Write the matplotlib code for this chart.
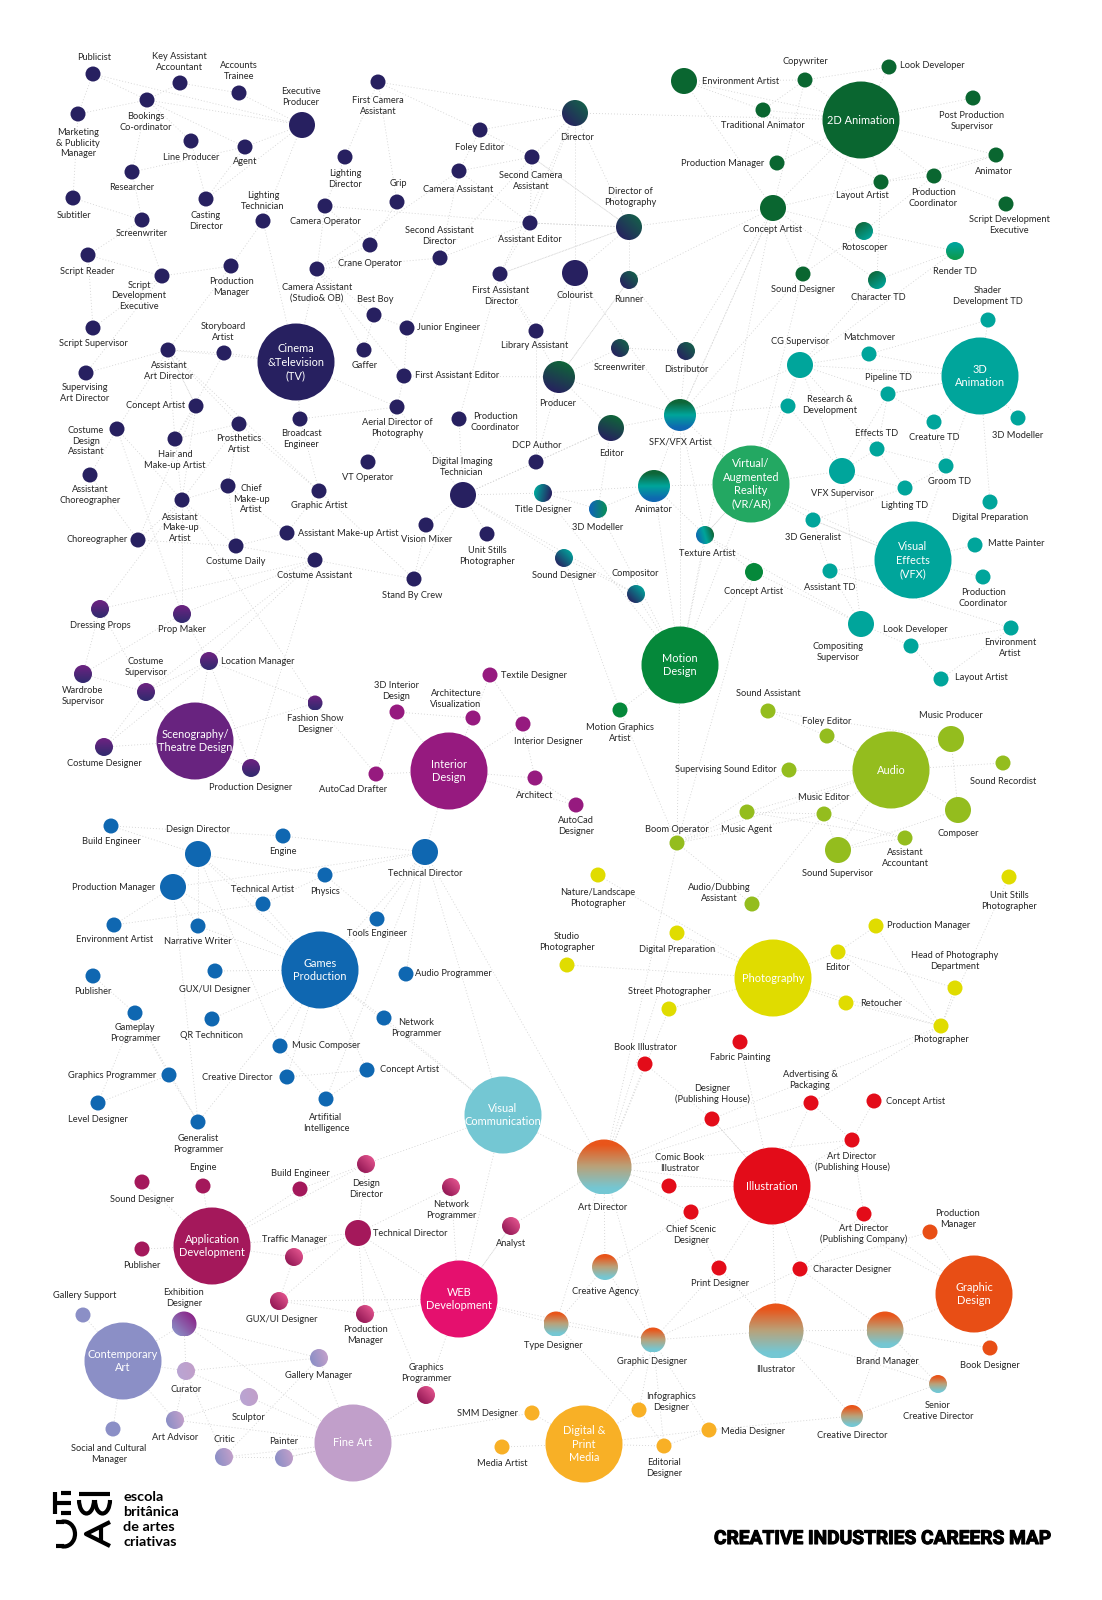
import numpy as np
import matplotlib
matplotlib.use("Agg")
import matplotlib.pyplot as plt
import matplotlib.patheffects as pe
from matplotlib.colors import LinearSegmentedColormap
from matplotlib.patches import Arc, Circle

plt.rcParams["font.family"] = ["Lato", "DejaVu Sans"]

# key, x, y, radius, label, label x, label y, (align)
cinema_nodes = [
    ("pub", 93, 74, 7.5, "Publicist", 94, 57),
    ("kaa", 180, 83, 7.5, "Key Assistant\nAccountant", 179, 62),
    ("atr", 239, 93, 7.5, "Accounts\nTrainee", 239, 71),
    ("ep", 302, 125, 13, "Executive\nProducer", 301, 97),
    ("book", 147, 100, 7.5, "Bookings\nCo-ordinator", 146, 122),
    ("mark", 78, 114, 7.5, "Marketing\n& Publicity\nManager", 78, 143),
    ("linep", 191, 141, 7.5, "Line Producer", 191, 157),
    ("agent", 245, 147, 7.5, "Agent", 245, 162),
    ("res", 132, 172, 7.5, "Researcher", 132, 188),
    ("subt", 73, 198, 7.5, "Subtitler", 74, 215),
    ("scrw", 142, 220, 7.5, "Screenwriter", 142, 233),
    ("cast", 206, 199, 7.5, "Casting\nDirector", 206, 221),
    ("ltech", 263, 221, 7.5, "Lighting\nTechnician", 263, 201),
    ("sread", 88, 255, 7.5, "Script Reader", 87, 271),
    ("sdev", 162, 276, 7.5, "Script\nDevelopment\nExecutive", 139, 296),
    ("pmgr", 231, 266, 7.5, "Production\nManager", 231, 287),
    ("ssup", 93, 328, 7.5, "Script Supervisor", 93, 343),
    ("sart", 86, 373, 7.5, "Supervising\nArt Director", 85, 393),
    ("aad", 168, 350, 7.5, "Assistant\nArt Director", 169, 371),
    ("story", 224, 353, 7.5, "Storyboard\nArtist", 223, 332),
    ("fca", 378, 82, 7.5, "First Camera\nAssistant", 378, 106),
    ("ldir", 345, 157, 7.5, "Lighting\nDirector", 345, 179),
    ("grip", 397, 202, 7.5, "Grip", 398, 184),
    ("camop", 325, 206, 7.5, "Camera Operator", 325, 221),
    ("crane", 370, 245, 7.5, "Crane Operator", 370, 263),
    ("casst", 317, 269, 7.5, "Camera Assistant\n(Studio& OB)", 317, 293),
    ("bestb", 374, 315, 7.5, "Best Boy", 375, 300),
    ("jeng", 407, 328, 7.5, "Junior Engineer", 417, 328, "left"),
    ("gaffer", 364, 350, 7.5, "Gaffer", 365, 366),
    ("fae", 404, 376, 7.5, "First Assistant Editor", 415, 375, "left"),
    ("foley", 480, 130, 7.5, "Foley Editor", 480, 148),
    ("ca2", 459, 171, 7.5, "Camera Assistant", 458, 189),
    ("sca", 532, 157, 7.5, "Second Camera\nAssistant", 531, 181),
    ("aed", 530, 223, 7.5, "Assistant Editor", 530, 239),
    ("sad", 440, 258, 7.5, "Second Assistant\nDirector", 439, 236),
    ("fad", 500, 274, 7.5, "First Assistant\nDirector", 501, 296),
    ("lib", 536, 331, 7.5, "Library Assistant", 535, 346),
    ("carti", 196, 406, 7.5, "Concept Artist", 185, 405, "right"),
    ("cda", 117, 429, 7.5, "Costume\nDesign\nAssistant", 86, 441),
    ("bcast", 300, 419, 7.5, "Broadcast\nEngineer", 301, 439),
    ("aerial", 397, 407, 7.5, "Aerial Director of\nPhotography", 397, 428),
    ("pcoord", 459, 419, 7.5, "Production\nCoordinator", 495, 422),
    ("pros", 239, 424, 7.5, "Prosthetics\nArtist", 239, 444),
    ("hair", 175, 439, 7.5, "Hair and\nMake-up Artist", 175, 460),
    ("dcp", 536, 462, 7.5, "DCP Author", 537, 446),
    ("vt", 368, 462, 7.5, "VT Operator", 368, 477),
    ("acho", 90, 475, 7.5, "Assistant\nChoreographer", 90, 495),
    ("chief", 228, 486, 7.5, "Chief\nMake-up\nArtist", 251, 499),
    ("amua", 182, 500, 7.5, "Assistant\nMake-up\nArtist", 180, 528),
    ("gart", 319, 491, 7.5, "Graphic Artist", 319, 505),
    ("dit", 463, 495, 13, "Digital Imaging\nTechnician", 462, 467),
    ("vmix", 426, 525, 7.5, "Vision Mixer", 427, 540),
    ("usp", 487, 534, 7.5, "Unit Stills\nPhotographer", 487, 556),
    ("amua2", 287, 533, 7.5, "Assistant Make-up Artist", 298, 533, "left"),
    ("chor", 138, 540, 7.5, "Choreographer", 128, 540, "right"),
    ("cdaily", 236, 546, 7.5, "Costume Daily", 236, 561),
    ("cass", 315, 560, 7.5, "Costume Assistant", 315, 576),
    ("sbc", 414, 579, 7.5, "Stand By Crew", 412, 595),
    ("col", 575, 273, 13, "Colourist", 575, 295),
]

# nodes that sit between two groups and carry a gradient fill
blend_nodes = [
    ("dir", 575, 113, 13, "Director", 577, 137),
    ("dop", 629, 227, 13, "Director of\nPhotography", 630, 197),
    ("run", 629, 280, 9, "Runner", 629, 299),
    ("scrw2", 620, 348, 9, "Screenwriter", 620, 367),
    ("dist", 686, 351, 9, "Distributor", 686, 370),
    ("prod", 559, 377, 16, "Producer", 558, 403),
    ("edit", 611, 428, 13, "Editor", 611, 454),
    ("sfx", 680, 415, 16, "SFX/VFX Artist", 680, 442),
    ("anim", 654, 486, 16, "Animator", 654, 509),
    ("m3d", 598, 509, 9, "3D Modeller", 598, 527),
    ("tex", 705, 535, 9, "Texture Artist", 707, 553),
    ("sdes", 564, 558, 9, "Sound Designer", 564, 575),
    ("comp", 636, 594, 9, "Compositor", 635, 573),
    ("title", 543, 493, 9, "Title Designer", 543, 510),
    ("roto", 864, 231, 9, "Rotoscoper", 864, 248),
    ("render", 955, 251, 9, "Render TD", 955, 272),
    ("chartd", 877, 280, 9, "Character TD", 878, 298),
]

anim2d_nodes = [
    ("envt", 684, 81, 13, "Environment Artist", 702, 81, "left"),
    ("copy", 805, 80, 7.5, "Copywriter", 805, 62),
    ("look", 889, 67, 7.5, "Look Developer", 900, 66, "left"),
    ("trad", 763, 110, 7.5, "Traditional Animator", 763, 126),
    ("post", 973, 98, 7.5, "Post Production\nSupervisor", 972, 121),
    ("pm2", 777, 163, 7.5, "Production Manager", 764, 163, "right"),
    ("animr", 996, 155, 7.5, "Animator", 994, 171),
    ("layout", 881, 182, 7.5, "Layout Artist", 862, 196),
    ("prodc", 934, 176, 7.5, "Production\nCoordinator", 933, 198),
    ("sdev2", 1006, 204, 7.5, "Script Development\nExecutive", 1009, 225),
    ("con2", 773, 208, 13, "Concept Artist", 773, 229),
    ("sndes", 803, 274, 7.5, "Sound Designer", 803, 289),
]

teal_nodes = [
    ("shader", 988, 320, 7.5, "Shader\nDevelopment TD", 988, 296),
    ("match", 869, 354, 7.5, "Matchmover", 869, 338),
    ("cgsup", 800, 365, 13, "CG Supervisor", 800, 341),
    ("pipe", 888, 394, 7.5, "Pipeline TD", 888, 378),
    ("rd", 788, 406, 7.5, "Research &\nDevelopment", 830, 405),
    ("creat", 934, 422, 7.5, "Creature TD", 934, 438),
    ("mod3", 1018, 418, 7.5, "3D Modeller", 1018, 436),
    ("etd", 877, 449, 7.5, "Effects TD", 877, 434),
    ("groom", 946, 466, 7.5, "Groom TD", 949, 482),
    ("vfxsup", 842, 471, 13, "VFX Supervisor", 842, 493),
    ("ltd", 905, 488, 7.5, "Lighting TD", 905, 505),
    ("dprep", 990, 502, 7.5, "Digital Preparation", 990, 518),
    ("gen3", 813, 520, 7.5, "3D Generalist", 813, 537),
    ("matte", 975, 545, 7.5, "Matte Painter", 988, 544, "left"),
    ("pc2", 983, 577, 7.5, "Production\nCoordinator", 983, 598),
    ("atd", 830, 571, 7.5, "Assistant TD", 830, 587),
    ("csup2", 861, 624, 13, "Compositing\nSupervisor", 838, 652),
    ("lookd", 911, 646, 7.5, "Look Developer", 915, 629),
    ("env3", 1011, 628, 7.5, "Environment\nArtist", 1010, 648),
    ("lay3", 941, 679, 7.5, "Layout Artist", 955, 678, "left"),
]

motion_nodes = [
    ("con3", 754, 572, 9, "Concept Artist", 754, 591),
    ("mga", 620, 710, 7.5, "Motion Graphics\nArtist", 620, 733),
]

audio_nodes = [
    ("sass", 768, 711, 7.5, "Sound Assistant", 768, 694),
    ("foa", 827, 736, 7.5, "Foley Editor", 827, 721),
    ("mprod", 951, 739, 13, "Music Producer", 951, 716),
    ("srec", 1003, 763, 7.5, "Sound Recordist", 1003, 781),
    ("sse", 789, 770, 7.5, "Supervising Sound Editor", 777, 770, "right"),
    ("med", 824, 814, 7.5, "Music Editor", 824, 798),
    ("mag", 747, 812, 7.5, "Music Agent", 747, 829),
    ("boom", 677, 843, 7.5, "Boom Operator", 677, 829),
    ("cmpsr", 958, 810, 13, "Composer", 958, 833),
    ("ssv", 838, 850, 13, "Sound Supervisor", 838, 874),
    ("aac", 905, 838, 7.5, "Assistant\nAccountant", 905, 858),
    ("dub", 752, 904, 7.5, "Audio/Dubbing\nAssistant", 719, 893),
]

photo_nodes = [
    ("nature", 598, 875, 7.5, "Nature/Landscape\nPhotographer", 598, 898),
    ("usp2", 1009, 877, 7.5, "Unit Stills\nPhotographer", 1009, 901),
    ("ppm", 876, 926, 7.5, "Production Manager", 887, 926, "left"),
    ("pdp", 677, 933, 7.5, "Digital Preparation", 677, 950),
    ("ped", 838, 952, 7.5, "Editor", 838, 967),
    ("studio", 567, 965, 7.5, "Studio\nPhotographer", 567, 942),
    ("head", 955, 988, 7.5, "Head of Photography\nDepartment", 955, 961),
    ("street", 669, 1009, 7.5, "Street Photographer", 669, 992),
    ("ret", 846, 1003, 7.5, "Retoucher", 860, 1003, "left"),
    ("pgr", 941, 1026, 7.5, "Photographer", 941, 1040),
]

illus_nodes = [
    ("fabric", 740, 1042, 7.5, "Fabric Painting", 740, 1058),
    ("booki", 645, 1064, 7.5, "Book Illustrator", 645, 1048),
    ("adv", 811, 1103, 7.5, "Advertising &\nPackaging", 810, 1080),
    ("icon", 874, 1101, 7.5, "Concept Artist", 886, 1101, "left"),
    ("dph", 712, 1119, 7.5, "Designer\n(Publishing House)", 712, 1094),
    ("adph", 852, 1140, 7.5, "Art Director\n(Publishing House)", 852, 1162),
    ("comic", 669, 1186, 7.5, "Comic Book\nIllustrator", 680, 1163),
    ("chiefs", 691, 1212, 7.5, "Chief Scenic\nDesigner", 691, 1235),
    ("adpc", 864, 1214, 7.5, "Art Director\n(Publishing Company)", 864, 1234),
    ("printd", 719, 1268, 7.5, "Print Designer", 720, 1283),
    ("chard", 800, 1269, 7.5, "Character Designer", 813, 1269, "left"),
]

visual_nodes = [
    ("adir", 604, 1167, 27.5, "Art Director", 603, 1207),
    ("cagency", 605, 1267, 13, "Creative Agency", 605, 1292),
    ("illr", 776, 1331, 27.5, "Illustrator", 776, 1369),
    ("brand", 885, 1330, 18.5, "Brand Manager", 887, 1361),
    ("gdes", 653, 1340, 12.5, "Graphic Designer", 652, 1362),
    ("type", 556, 1324, 12.5, "Type Designer", 553, 1346),
    ("senior", 938, 1384, 9, "Senior\nCreative Director", 938, 1411),
    ("cdir", 852, 1416, 11, "Creative Director", 852, 1436),
]

graphic_nodes = [
    ("gpm", 930, 1232, 7.5, "Production\nManager", 958, 1219),
    ("bookd", 990, 1348, 7.5, "Book Designer", 990, 1365),
]

media_nodes = [
    ("info", 639, 1410, 7.5, "Infographics\nDesigner", 671, 1402),
    ("mdes", 709, 1430, 7.5, "Media Designer", 721, 1431, "left"),
    ("edes", 664, 1446, 7.5, "Editorial\nDesigner", 664, 1468),
    ("smm", 532, 1413, 7.5, "SMM Designer", 518, 1413, "right"),
    ("mart", 502, 1447, 7.5, "Media Artist", 502, 1464),
]

scen_nodes = [
    ("dress", 100, 609, 9, "Dressing Props", 100, 626),
    ("propm", 182, 614, 9, "Prop Maker", 182, 630),
    ("loc", 209, 661, 9, "Location Manager", 221, 661, "left"),
    ("ward", 83, 674, 9, "Wardrobe\nSupervisor", 83, 696),
    ("csup", 146, 692, 9, "Costume\nSupervisor", 146, 667),
    ("fash", 315, 703, 7.5, "Fashion Show\nDesigner", 315, 724),
    ("cdes", 104, 747, 9, "Costume Designer", 104, 763),
    ("pdes", 251, 768, 9, "Production Designer", 251, 787),
]

interior_nodes = [
    ("textd", 490, 675, 7.5, "Textile Designer", 501, 675, "left"),
    ("i3d", 397, 712, 7.5, "3D Interior\nDesign", 396, 691),
    ("archv", 473, 718, 7.5, "Architecture\nVisualization", 456, 699),
    ("idesg", 523, 724, 7.5, "Interior Designer", 548, 741),
    ("acad", 376, 774, 7.5, "AutoCad Drafter", 353, 790),
    ("archt", 535, 778, 7.5, "Architect", 535, 795),
    ("adesg", 576, 805, 7.5, "AutoCad\nDesigner", 576, 826),
]

games_nodes = [
    ("gbuild", 111, 826, 7.5, "Build Engineer", 111, 841),
    ("gdd", 198, 854, 13, "Design Director", 198, 829),
    ("geng", 283, 836, 7.5, "Engine", 283, 852),
    ("gtd", 425, 852, 13, "Technical Director", 425, 874),
    ("gpm2", 173, 887, 13, "Production Manager", 155, 887, "right"),
    ("gphy", 325, 875, 7.5, "Physics", 325, 892),
    ("gta", 263, 904, 7.5, "Technical Artist", 263, 889),
    ("gtool", 377, 919, 7.5, "Tools Engineer", 377, 934),
    ("genv", 114, 925, 7.5, "Environment Artist", 115, 940),
    ("gnw", 198, 926, 7.5, "Narrative Writer", 198, 942),
    ("gux", 215, 971, 7.5, "GUX/UI Designer", 215, 989),
    ("gaudio", 406, 974, 7.5, "Audio Programmer", 415, 974, "left"),
    ("gpub", 93, 976, 7.5, "Publisher", 93, 992),
    ("gplay", 135, 1013, 7.5, "Gameplay\nProgrammer", 135, 1033),
    ("gqr", 212, 1019, 7.5, "QR Techniticon", 212, 1035),
    ("gnet", 384, 1018, 7.5, "Network\nProgrammer", 416, 1028),
    ("gmus", 280, 1046, 7.5, "Music Composer", 292, 1045, "left"),
    ("gcon", 367, 1070, 7.5, "Concept Artist", 380, 1070, "left"),
    ("gcd", 287, 1077, 7.5, "Creative Director", 273, 1077, "right"),
    ("ggfx", 169, 1075, 7.5, "Graphics Programmer", 156, 1075, "right"),
    ("glev", 98, 1103, 7.5, "Level Designer", 98, 1120),
    ("gai", 326, 1099, 7.5, "Artifitial\nIntelligence", 326, 1123),
    ("ggen", 198, 1122, 7.5, "Generalist\nProgrammer", 198, 1144),
]

app_nodes = [
    ("asnd", 142, 1182, 7.5, "Sound Designer", 142, 1200),
    ("aeng", 203, 1186, 7.5, "Engine", 203, 1168),
    ("abuild", 300, 1189, 7.5, "Build Engineer", 300, 1173),
    ("atech", 358, 1233, 13, "Technical Director", 373, 1233, "left"),
    ("apub", 142, 1249, 7.5, "Publisher", 142, 1265),
]

pink_nodes = [
    ("wdd", 366, 1164, 9, "Design\nDirector", 366, 1189),
    ("wnet", 451, 1187, 9, "Network\nProgrammer", 451, 1210),
    ("wana", 511, 1226, 9, "Analyst", 511, 1243),
    ("wtraf", 294, 1257, 9, "Traffic Manager", 294, 1240),
    ("wux", 279, 1301, 9, "GUX/UI Designer", 282, 1320),
    ("wpm", 365, 1314, 9, "Production\nManager", 365, 1335),
    ("wgfx", 426, 1395, 9, "Graphics\nProgrammer", 426, 1373),
]

art_nodes = [
    ("gals", 83, 1315, 7.5, "Gallery Support", 85, 1296),
    ("soc", 113, 1429, 7.5, "Social and Cultural\nManager", 109, 1454),
]

lilac_nodes = [
    ("exh", 184, 1324, 12.5, "Exhibition\nDesigner", 184, 1298),
    ("galm", 319, 1358, 9, "Gallery Manager", 319, 1375),
    ("cur", 186, 1371, 9, "Curator", 186, 1390),
    ("sculp", 249, 1397, 9, "Sculptor", 249, 1417),
    ("adv2", 175, 1420, 9, "Art Advisor", 175, 1438),
    ("critic", 224, 1457, 9, "Critic", 224, 1439),
    ("paint", 284, 1458, 9, "Painter", 284, 1441),
]

# the big named circles: key, x, y, name, colour
hub_names = ["tv", "a2", "a3", "vr", "vfx", "mot", "aud", "photo", "illus", "gfx", "dig",
             "scen", "int", "games", "vis", "app", "web", "cont", "fine"]
hub_x = [296, 861, 980, 751, 913, 680, 891, 773, 772, 974, 584, 195, 449, 320, 503, 212, 459, 123, 353]
hub_y = [362, 120, 376, 484, 560, 665, 770, 978, 1186, 1294, 1444, 741, 771, 970, 1115, 1246, 1299, 1361, 1443]
hub_text = ["Cinema\n&Television\n(TV)", "2D Animation", "3D\nAnimation", "Virtual/\nAugmented\nReality\n(VR/AR)",
            "Visual\nEffects\n(VFX)", "Motion\nDesign", "Audio", "Photography", "Illustration", "Graphic\nDesign",
            "Digital &\nPrint\nMedia", "Scenography/\nTheatre Design", "Interior\nDesign", "Games\nProduction",
            "Visual\nCommunication", "Application\nDevelopment", "WEB\nDevelopment", "Contemporary\nArt", "Fine Art"]
hub_colors = ["#272060", "#0a6630", "#00a59b", "#23a862", "#00a59b", "#05883a", "#94bd1e", "#e0dc00", "#e30c19",
              "#e84e15", "#f8b026", "#68237f", "#961a7f", "#0f67b1", "#74c7d3", "#a4185b", "#e5106e", "#8b8fc6",
              "#c19fca"]

flat_groups = [
    (cinema_nodes, "#272060"), (anim2d_nodes, "#0a6630"), (teal_nodes, "#00a59b"), (motion_nodes, "#05883a"),
    (audio_nodes, "#94bd1e"), (photo_nodes, "#e0dc00"), (illus_nodes, "#e30c19"), (graphic_nodes, "#e84e15"),
    (media_nodes, "#f8b026"), (interior_nodes, "#961a7f"), (games_nodes, "#0f67b1"), (app_nodes, "#a4185b"),
    (art_nodes, "#8b8fc6"),
]

# colours (start, ..., end) and direction (dx, dy) of the gradient nodes
NAVY, GREEN, TEAL, BLUE = "#272060", "#0f6638", "#00a59b", "#0f67b1"
blend_fill = {
    "dir": ((NAVY, "#15604a"), (1, -1)), "dop": ((NAVY, "#15604a"), (1, -1)), "run": ((NAVY, "#15604a"), (1, -1)),
    "scrw2": ((NAVY, "#15604a"), (1, -1)), "dist": ((NAVY, "#15604a"), (1, -1)), "prod": ((NAVY, "#0f6638"), (0.4, -1)),
    "edit": ((NAVY, "#0f6638"), (0.4, -1)), "sfx": ((GREEN, TEAL, BLUE), (0, 1)), "anim": ((GREEN, TEAL, BLUE), (0, 1)),
    "m3d": ((BLUE, "#0a8a60"), (1, 0)), "tex": ((BLUE, TEAL, GREEN), (1, -0.3)), "sdes": ((NAVY, TEAL), (1, -1)),
    "comp": ((NAVY, TEAL), (1, -1)), "title": ((TEAL, NAVY), (1, 0.2)), "roto": ((GREEN, TEAL), (0.7, 1)),
    "render": ((TEAL, "#0c9a50"), (0, 1)), "chartd": ((GREEN, TEAL), (0.7, 1)),
}
for row in scen_nodes:
    blend_fill[row[0]] = (("#68237f", "#352a70"), (0, 1))
for row in pink_nodes:
    blend_fill[row[0]] = (("#8f1552", "#e4558f"), (1, -1))
for row in visual_nodes:
    blend_fill[row[0]] = (("#e9551a", "#b9a27a", "#74c7d3"), (0, 1))
blend_fill["exh"] = (("#8b8fc6", "#8a1d84"), (1, -1))
for key in ["galm", "adv2", "critic", "paint"]:
    blend_fill[key] = (("#8b8fc6", "#c19fca"), (1, -0.3))
for key in ["cur", "sculp"]:
    blend_fill[key] = (("#b9a5d3", "#c19fca"), (1, -0.3))

# links: node -> the nodes it joins
links = {
    "pub": "ep book mark", "kaa": "atr", "atr": "ep", "book": "ep agent linep mark res kaa",
    "linep": "cast", "agent": "ep cast res", "ep": "cast ltech", "mark": "subt", "subt": "scrw", "res": "scrw",
    "scrw": "sread sdev", "sread": "sdev ssup", "sdev": "ssup sart pmgr", "pmgr": "ltech aad", "ltech": "tv",
    "aad": "story cda carti pros hair gart sart", "story": "tv hair", "fca": "ldir grip foley dir", "ldir": "camop",
    "grip": "crane", "camop": "crane casst aed", "crane": "casst", "casst": "tv sad bestb fae gaffer",
    "bestb": "jeng gaffer", "jeng": "fae sad", "fae": "prod aerial", "foley": "sca dir ca2",
    "ca2": "sad aed sca casst", "sca": "dir aed dop sad", "aed": "dop sad fad", "fad": "dop lib pcoord",
    "dir": "dop col aed a2 fad", "dop": "col run con2 aed fad sca", "col": "prod lib sfx", "run": "con2 prod dist",
    "scrw2": "prod dist", "dist": "con2 sfx", "tv": "bcast aerial aad", "bcast": "aerial gart", "aerial": "vt dit",
    "pros": "hair gart chief amua", "hair": "amua", "carti": "aad amua hair chor", "cda": "acho amua propm",
    "chief": "amua cdaily amua2", "amua": "cdaily chor fash propm dress", "amua2": "cdaily cass gart",
    "cdaily": "cass chor", "cass": "sbc propm dress csup loc pdes", "gart": "sbc", "chor": "acho",
    "dit": "dcp title vmix usp pcoord sbc sdes comp edit", "vmix": "sbc", "dcp": "lib prod",
    "prod": "edit sfx fad run", "edit": "sfx dcp m3d", "sfx": "anim tex mot con2", "anim": "tex mot title m3d vr",
    "m3d": "title mot", "tex": "mot vr con3", "comp": "mot sdes", "title": "mot", "sdes": "mga",
    "a2": "envt copy trad look post animr pm2 con2 prodc layout sndes",
    "envt": "copy trad con2", "copy": "look trad con2", "trad": "layout", "layout": "prodc animr con2 chartd",
    "prodc": "animr sdev2 roto", "con2": "roto chartd sndes sfx mot", "roto": "render sndes", "sndes": "vr sfx",
    "render": "cgsup chartd", "chartd": "cgsup", "a3": "cgsup match pipe shader creat mod3 dprep groom",
    "cgsup": "match pipe rd etd vr sfx vfxsup", "pipe": "a3 vfxsup etd creat", "match": "shader",
    "rd": "vr vfxsup sfx", "etd": "vfxsup groom ltd", "creat": "groom", "groom": "ltd vfx", "ltd": "gen3 vfxsup",
    "vfxsup": "vr csup2", "vr": "sfx gen3 tex vfx mot", "gen3": "atd vfx", "atd": "csup2 env3 vfx",
    "vfx": "matte pc2 gen3", "csup2": "tex lookd con3", "lookd": "env3 lay3", "env3": "lay3",
    "mot": "con3 mga boom", "con3": "boom", "mga": "boom",
    "aud": "foa mprod srec sse cmpsr med ssv mag", "sass": "foa mprod", "foa": "aud", "mprod": "cmpsr",
    "sse": "boom", "med": "mag boom ssv aac dub", "mag": "boom aac", "boom": "dub aud adir", "cmpsr": "ssv",
    "ssv": "aac", "photo": "nature pdp studio street ret ped pgr", "ppm": "ped pgr", "ped": "head pgr",
    "usp2": "pgr", "head": "pgr", "ret": "pgr", "pdp": "adir", "street": "adir", "pgr": "dph adv",
    "illus": "fabric adv adph dph comic chiefs chard adpc printd adir illr", "booki": "dph adir", "dph": "adir illus",
    "adv": "adir adph", "icon": "adph", "adph": "adir adpc", "comic": "adir", "chiefs": "adir printd cagency",
    "adpc": "chard gfx", "chard": "gdes illr brand", "printd": "illr gdes", "gpm": "gfx chard", "gfx": "brand bookd illus",
    "illr": "gdes brand cdir", "brand": "senior cdir bookd", "senior": "cdir illr", "cdir": "mdes", "mdes": "edes dig gdes",
    "gdes": "type cagency adir info edes dig web", "type": "web info adir", "cagency": "adir type", "info": "dig edes",
    "edes": "dig", "smm": "dig", "mart": "dig", "fine": "smm wgfx galm sculp paint critic exh",
    "int": "i3d archv idesg archt acad adesg gtd", "i3d": "archv acad", "textd": "idesg archv", "idesg": "archt",
    "archt": "adesg", "acad": "fash", "fash": "scen loc", "scen": "loc csup cdes pdes", "ward": "csup dress propm",
    "dress": "csup", "csup": "cdes loc", "loc": "propm cdes", "pdes": "loc",
    "gbuild": "gdd geng", "geng": "gtd", "gdd": "gpm2 games gta gmus gnw", "gpm2": "genv games gtd ggen gnw",
    "genv": "gta", "gta": "gphy games", "gphy": "gtd gtool gdd", "gtd": "gtool gaudio games vis gai adir",
    "gtool": "games", "gnw": "games", "gux": "games", "gqr": "games", "games": "gnet gmus gcon gcd ggen vis",
    "gpub": "gplay", "gplay": "ggfx ggen glev", "ggfx": "ggen glev", "gcd": "gcon", "gcon": "gai", "gmus": "gai",
    "vis": "adir wdd web gnet", "wdd": "atech abuild", "wnet": "atech web", "wana": "web adir",
    "app": "asnd aeng apub abuild wtraf atech wdd", "atech": "wtraf wux wpm wgfx web", "wux": "wpm web",
    "wpm": "web", "web": "wgfx wana", "wtraf": "wux", "cont": "gals soc exh cur adv2",
    "exh": "cur galm", "cur": "galm sculp adv2 critic", "sculp": "adv2", "adv2": "fine", "galm": "critic",
    "critic": "paint", "paint": "fine",
}

all_nodes = (cinema_nodes + blend_nodes + anim2d_nodes + teal_nodes + motion_nodes + audio_nodes + photo_nodes
             + illus_nodes + visual_nodes + graphic_nodes + media_nodes + scen_nodes + interior_nodes + games_nodes
             + app_nodes + pink_nodes + art_nodes + lilac_nodes)
pos = {row[0]: (row[1], row[2]) for row in all_nodes}
for k, x, y in zip(hub_names, hub_x, hub_y):
    pos[k] = (x, y)

fig = plt.figure(figsize=(11.02, 16), dpi=100)
ax = fig.add_axes([0, 0, 1, 1])

# links
for a, others in links.items():
    for b in others.split():
        ax.plot([pos[a][0], pos[b][0]], [pos[a][1], pos[b][1]], color="#d4d4d4", lw=0.6,
                ls=(0, (1.2, 2.4)), zorder=1)

# flat nodes
for rows, color in flat_groups:
    for row in rows:
        ax.add_patch(Circle((row[1], row[2]), row[3], fc=color, ec="none", zorder=3))

# gradient nodes
grid = np.linspace(-1, 1, 64)
gx, gy = np.meshgrid(grid, grid)
for row in all_nodes:
    if row[0] not in blend_fill:
        continue
    colors, (dx, dy) = blend_fill[row[0]]
    cmap = LinearSegmentedColormap.from_list(row[0], colors)
    t = gx * dx + gy * dy
    x, y, r = row[1], row[2], row[3]
    im = ax.imshow(t, cmap=cmap, extent=(x - r, x + r, y + r, y - r), origin="upper",
                   interpolation="bilinear", zorder=3, aspect="auto",
                   vmin=-0.8 * (abs(dx) + abs(dy)), vmax=0.8 * (abs(dx) + abs(dy)))
    im.set_clip_path(Circle((x, y), r, transform=ax.transData))

# node labels
for row in all_nodes:
    ha = row[7] if len(row) > 7 else "center"
    ax.text(row[5], row[6], row[4], ha=ha, va="center", fontsize=6.7, color="#262626",
            linespacing=1.28, zorder=4)

# hubs
for x, y, text, color in zip(hub_x, hub_y, hub_text, hub_colors):
    ax.add_patch(Circle((x, y), 38.5, fc=color, ec="none", zorder=3))
    ax.text(x, y, text, ha="center", va="center", fontsize=7.9, color="white",
            linespacing=1.26, zorder=4)

# logo
black = dict(color="black", lw=3, solid_capstyle="butt", zorder=4)
ax.plot([55, 55], [1492, 1514], **black)
ax.plot([55, 71], [1503, 1503], **black)
ax.plot([61, 71], [1493, 1493], **black)
ax.plot([61, 71], [1513, 1513], **black)
ax.plot([79, 110], [1494, 1494], **black)
ax.add_patch(Arc((86.5, 1500), 15, 27, theta1=0, theta2=180, color="black", lw=3, zorder=4))
ax.add_patch(Arc((102.5, 1500), 15, 27, theta1=0, theta2=180, color="black", lw=3, zorder=4))
ax.add_patch(Arc((64, 1534), 22, 25, theta1=-100, theta2=100, color="black", lw=3, zorder=4))
ax.plot([56, 64], [1522, 1522], **black)
ax.plot([56, 64], [1546, 1546], **black)
ax.plot([110, 86, 110], [1522, 1534, 1546], **black)
ax.plot([101, 101], [1526, 1542], **black)

for y, word in zip([1497, 1512, 1527, 1542], ["escola", "britânica", "de artes", "criativas"]):
    ax.text(123, y, word, ha="left", va="center", fontsize=10.4, fontweight="bold", color="black", zorder=4)

ax.text(714, 1539, "CREATIVE INDUSTRIES CAREERS MAP", ha="left", va="center", fontsize=13.8, color="black",
        family=["Roboto", "DejaVu Sans"], fontweight="bold",
        path_effects=[pe.withStroke(linewidth=0.8, foreground="black")], zorder=4)

ax.set_xlim(0, 1102)
ax.set_ylim(1600, 0)
ax.axis("off")
fig.savefig("out.png", dpi=100, facecolor="white")
